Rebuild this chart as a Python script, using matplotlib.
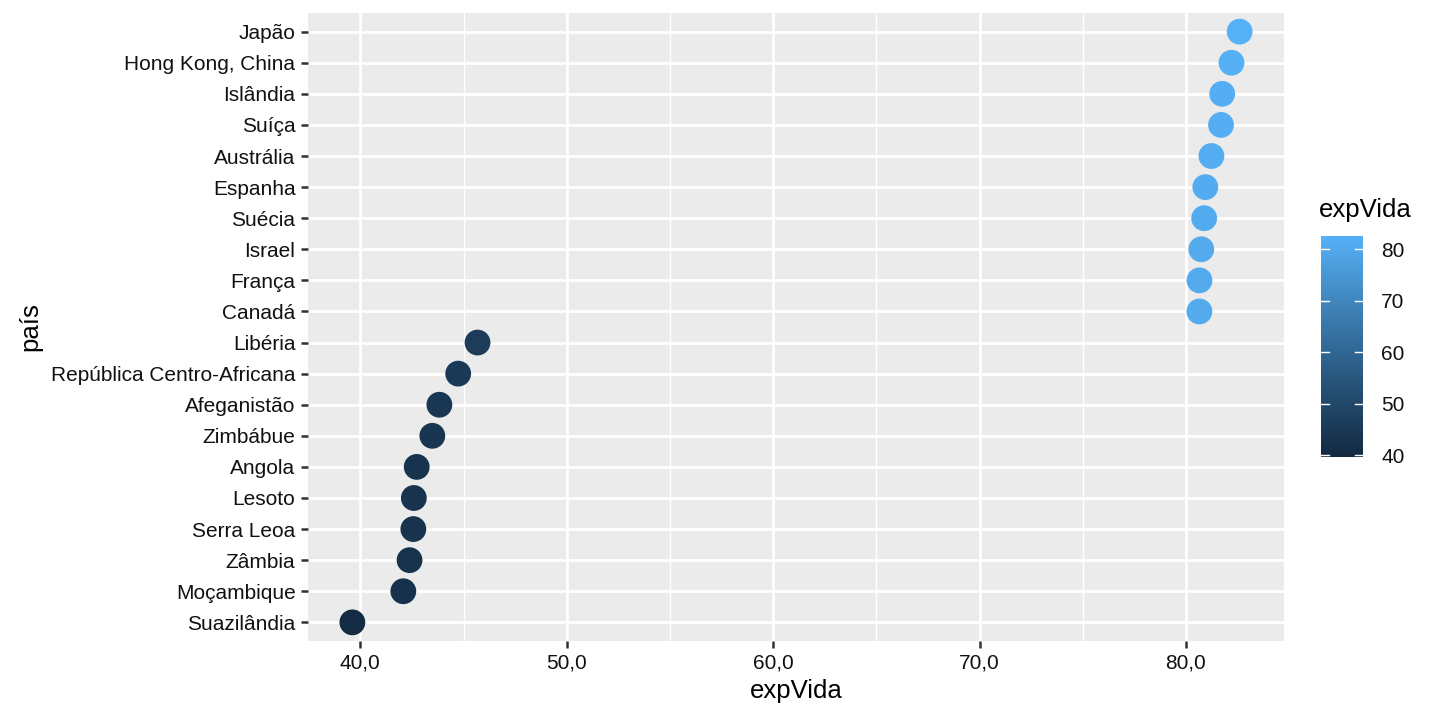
import numpy as np
import matplotlib
matplotlib.use("Agg")
import matplotlib.pyplot as plt
from matplotlib.colors import ListedColormap, Normalize
from matplotlib.ticker import FuncFormatter, MultipleLocator

paises = ["Japão", "Hong Kong, China", "Islândia", "Suíça", "Austrália", "Espanha",
          "Suécia", "Israel", "França", "Canadá", "Libéria", "República Centro-Africana",
          "Afeganistão", "Zimbábue", "Angola", "Lesoto", "Serra Leoa", "Zâmbia",
          "Moçambique", "Suazilândia"]
expVida = [82.603, 82.208, 81.757, 81.701, 81.235, 80.941, 80.884, 80.745, 80.657, 80.653,
           45.678, 44.741, 43.828, 43.487, 42.731, 42.592, 42.568, 42.384, 42.082, 39.613]
x_ticks = [40, 50, 60, 70, 80]
cbar_ticks = [40, 50, 60, 70, 80]

plt.rcParams['font.family'] = ['Liberation Sans', 'DejaVu Sans']

# ggplot2 default gradient (#132B43 -> #56B1F7) interpolated in Lab space
def srgb_to_lin(c):
    return np.where(c <= 0.04045, c / 12.92, ((c + 0.055) / 1.055) ** 2.4)
def lin_to_srgb(c):
    c = np.clip(c, 0, 1)
    return np.where(c <= 0.0031308, 12.92 * c, 1.055 * c ** (1 / 2.4) - 0.055)
M = np.array([[0.4124, 0.3576, 0.1805], [0.2126, 0.7152, 0.0722], [0.0193, 0.1192, 0.9505]])
Wn = np.array([0.95047, 1.0, 1.08883])
def f(t):
    d = 6 / 29
    return np.where(t > d ** 3, np.cbrt(t), t / (3 * d * d) + 4 / 29)
def finv(t):
    d = 6 / 29
    return np.where(t > d, t ** 3, 3 * d * d * (t - 4 / 29))
def hex2lab(h):
    rgb = np.array([int(h[i:i + 2], 16) / 255 for i in (1, 3, 5)])
    xyz = M @ srgb_to_lin(rgb) / Wn
    fx, fy, fz = f(xyz)
    return np.array([116 * fy - 16, 500 * (fx - fy), 200 * (fy - fz)])
def lab2rgb(lab):
    L, a, b = lab
    fy = (L + 16) / 116
    fx = fy + a / 500
    fz = fy - b / 200
    xyz = np.array([finv(fx), finv(fy), finv(fz)]) * Wn
    return lin_to_srgb(np.linalg.solve(M, xyz))
lab0, lab1 = hex2lab("#132B43"), hex2lab("#56B1F7")
cols = [lab2rgb(lab0 + (lab1 - lab0) * t) for t in np.linspace(0, 1, 256)]
cmap = ListedColormap(cols)

fig = plt.figure(figsize=(14.4, 7.2), dpi=100)
ax = fig.add_axes([308 / 1440, 1 - 641 / 720, (1284 - 308) / 1440, (641 - 13) / 720])
ax.set_facecolor("#EBEBEB")

n = len(paises)
ypos = np.arange(n)[::-1]
vmin, vmax = min(expVida), max(expVida)
norm = Normalize(vmin, vmax)
sc = ax.scatter(expVida, ypos, c=expVida, cmap=cmap, norm=norm, s=345, linewidths=0, zorder=3)

rng = vmax - vmin
ax.set_xlim(vmin - 0.05 * rng, vmax + 0.05 * rng)
ax.set_ylim(-0.6, n - 0.4)
ax.xaxis.set_major_locator(MultipleLocator(10))
ax.xaxis.set_minor_locator(MultipleLocator(5))
ax.set_xticks(x_ticks)
ax.xaxis.set_major_formatter(FuncFormatter(lambda v, p: f"{v:.1f}".replace(".", ",")))
ax.set_yticks(ypos)
ax.set_yticklabels(paises)
ax.grid(which="major", color="white", linewidth=2.0, zorder=0)
ax.grid(which="minor", axis="x", color="white", linewidth=1.0, zorder=0)
ax.set_axisbelow(True)
for s in ax.spines.values():
    s.set_visible(False)
ax.tick_params(axis="both", which="major", length=5, width=1.8, color="#333333",
               labelsize=15, labelcolor="#111111", pad=4)
ax.tick_params(axis="x", which="minor", length=0)
ax.set_xlabel("expVida", fontsize=18.5, labelpad=5)
ax.set_ylabel("país", fontsize=18.5, labelpad=6)

# colour bar
cax = fig.add_axes([1321 / 1440, 1 - 457 / 720, (1363 - 1321) / 1440, (457 - 236) / 720])
grad = np.linspace(vmin, vmax, 300).reshape(-1, 1)
cax.imshow(grad, aspect="auto", origin="lower", cmap=cmap, norm=norm,
           extent=[0, 1, vmin, vmax])
cax.set_xlim(0, 1)
cax.set_ylim(vmin, vmax)
cax.set_xticks([])
cax.set_yticks(cbar_ticks)
cax.yaxis.tick_right()
cax.tick_params(axis="y", length=0, labelsize=15, labelcolor="#111111", pad=13)
for t in cbar_ticks:
    cax.plot([0, 0.2], [t, t], color="white", lw=1)
    cax.plot([0.8, 1], [t, t], color="white", lw=1)
for s in cax.spines.values():
    s.set_visible(False)
fig.text(1319 / 1440, 1 - 210 / 720, "expVida", fontsize=18.5, va="center", ha="left")

fig.savefig("out.png", dpi=100)
